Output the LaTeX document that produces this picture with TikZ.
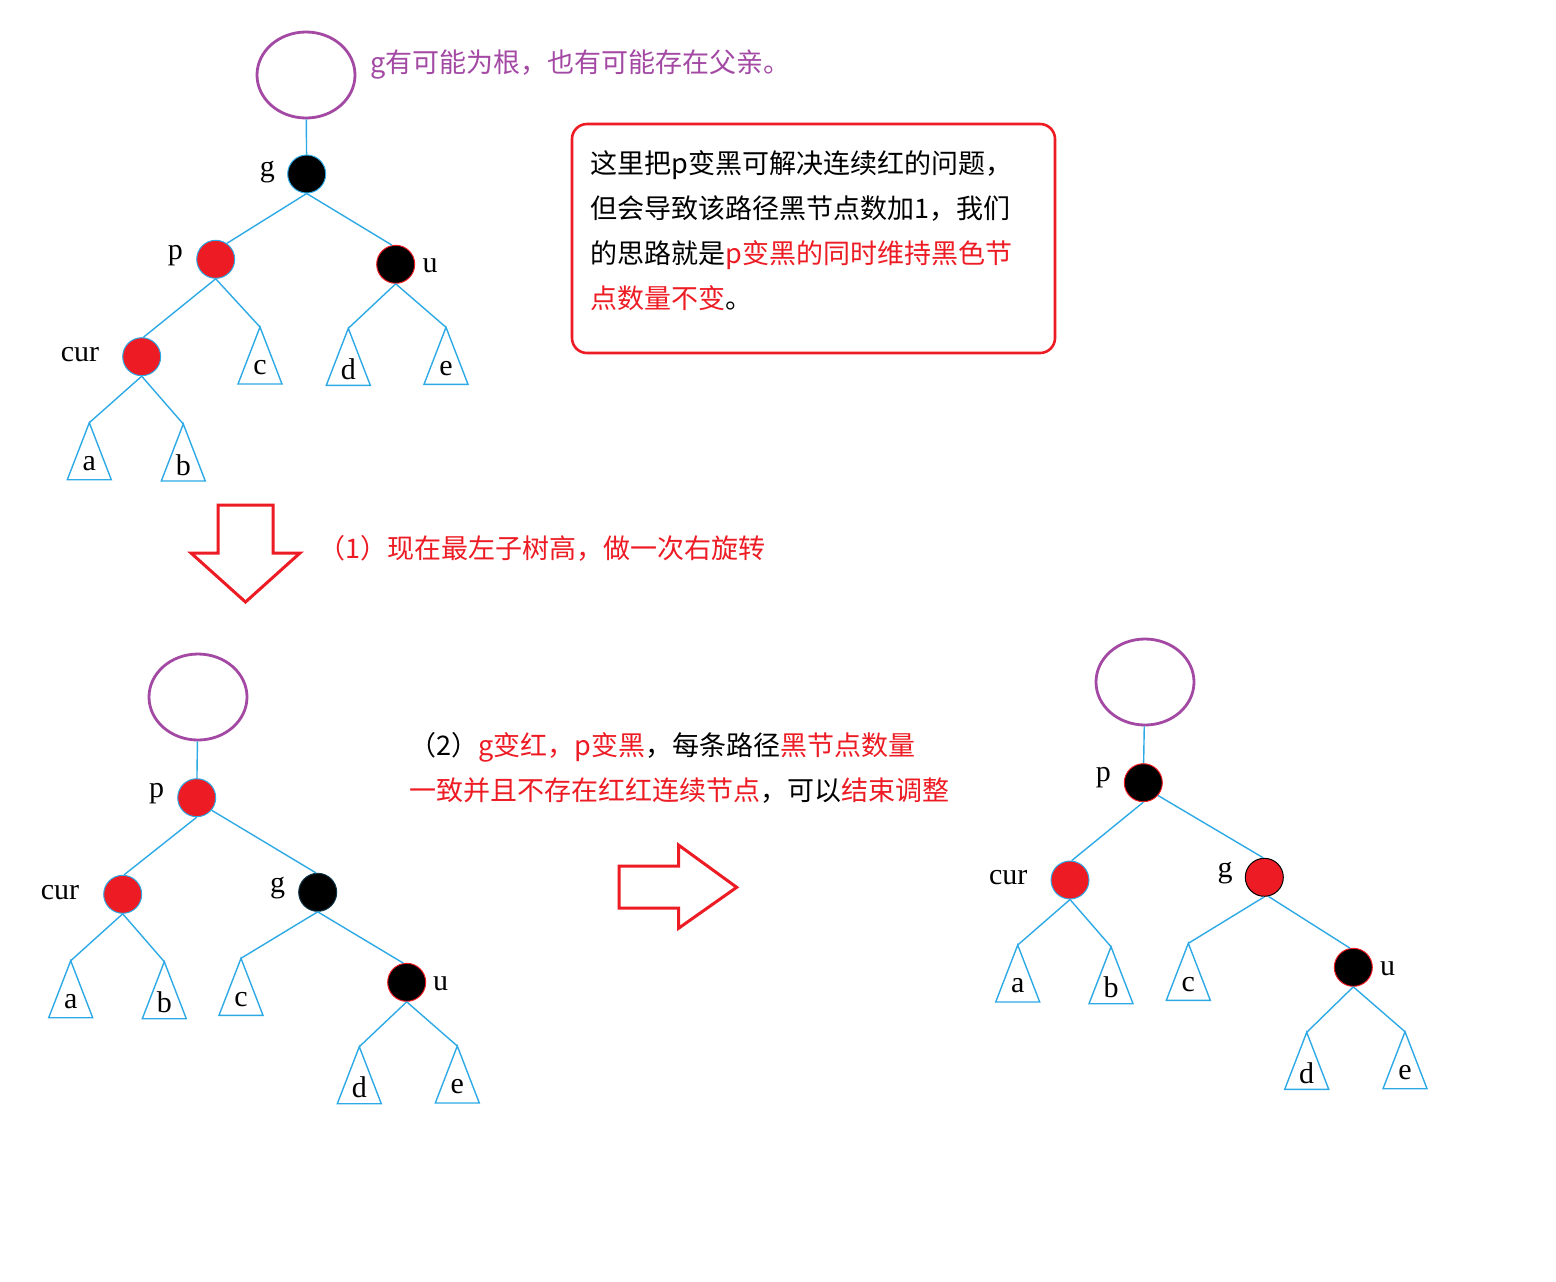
\documentclass[tikz,border=0pt]{standalone}
\usepackage{fontspec}
\setmainfont{Liberation Serif}
\newfontfamily\cjk{Noto Sans CJK SC}
\usetikzlibrary{shapes.geometric}
\definecolor{pred}{RGB}{237,28,36}
\definecolor{ppurple}{RGB}{163,73,164}
\definecolor{pblue}{RGB}{45,170,230}
\tikzset{
  rootell/.style={draw=ppurple, line width=1.4pt, ellipse, minimum width=49pt, minimum height=43pt, inner sep=0pt},
  rednode/.style={circle, fill=pred, draw=pblue, line width=0.5pt, minimum size=19pt, inner sep=0pt},
  blacknode/.style={circle, fill=black, draw=pblue, line width=0.5pt, minimum size=19pt, inner sep=0pt},
  edge/.style={draw=pblue, line width=0.7pt},
  tri/.style={draw=pblue, line width=0.7pt},
  lbl/.style={font=\fontsize{15}{18}\selectfont, inner sep=0pt},
  cjktext/.style={font=\cjk\fontsize{13.5}{22.5}\selectfont, align=left, inner sep=0pt},
  notebox/.style={draw=pred, line width=1.3pt, rounded corners=7.5pt, minimum width=241.5pt, minimum height=114.5pt, inner sep=0pt},
  bigarrow/.style={draw=pred, line width=1.5pt, line join=miter}
}
\newcommand{\subtri}[4]{%
  \coordinate (#1) at (#2,#3);
  \draw[tri] (#1) -- ++(-22,57) -- ++(44,0) -- cycle;
  \node[lbl] (#1-l) at (#2,#3+41) {#4};
}
\begin{document}
\begin{tikzpicture}[x=0.5pt,y=-0.5pt]
\fill[white] (0,0) rectangle (1556,1281);
\useasboundingbox (0,0) rectangle (1556,1281);

% ---------------- top tree ----------------
\node[rootell] (r1) at (306,75) {};
\node[cjktext, anchor=west, text=ppurple] (rootnote) at (370,65) {g有可能为根，也有可能存在父亲。};
\node[blacknode] (g1) at (306.7,174) {};
\node[rednode] (p1) at (215.7,259.3) {};
\node[blacknode, draw=pred] (u1) at (395.7,264.3) {};
\node[rednode] (cur1) at (141.7,356.7) {};
\node[lbl] (g1-l) at (267.3,171.7) {g};
\node[lbl] (p1-l) at (175.3,256) {p};
\node[lbl] (u1-l) at (430,265.7) {u};
\node[lbl] (cur1-l) at (80,355) {cur};
\subtri{a1}{89.3}{422.7}{a}
\subtri{b1}{183.3}{424}{b}
\subtri{c1}{260}{327}{c}
\subtri{d1}{348.3}{328.3}{d}
\subtri{e1}{446}{327.3}{e}
\draw[edge] (r1) -- (g1);
\draw[edge] (g1.south) -- (p1.55);
\draw[edge] (g1.south) -- (u1.101);
\draw[edge] (p1.south) -- (cur1.85);
\draw[edge] (p1.south) -- (c1);
\draw[edge] (u1.south) -- (d1);
\draw[edge] (u1.south) -- (e1);
\draw[edge] (cur1.south) -- (a1);
\draw[edge] (cur1.south) -- (b1);

% note box
\node[notebox] (note) at (813.5,238.5) {};
\node[cjktext, anchor=west] (notetext) at (590,230.5) {这里把p变黑可解决连续红的问题，\\但会导致该路径黑节点数加1，我们\\的思路就是\textcolor{pred}{p变黑的同时维持黑色节}\\\textcolor{pred}{点数量不变}。};

% down arrow
\draw[bigarrow] (218,505) -- (273,505) -- (273,553) -- (300,553) -- (245.5,602) -- (191,553) -- (218,553) -- cycle;
\node[cjktext, anchor=west, text=pred] (step1) at (318,548) {（1）现在最左子树高，做一次右旋转};

% ---------------- bottom-left tree ----------------
\node[rootell] (r2) at (198,697) {};
\node[rednode] (p2) at (196.7,797.7) {};
\node[rednode] (cur2) at (122.7,894.3) {};
\node[blacknode, draw=black!70!pblue] (g2) at (317.7,892.3) {};
\node[blacknode, draw=pred] (u2) at (406.7,982.3) {};
\node[lbl] (p2-l) at (156.7,793.3) {p};
\node[lbl] (cur2-l) at (60,892.3) {cur};
\node[lbl] (g2-l) at (277.7,888.3) {g};
\node[lbl] (u2-l) at (440.7,983.3) {u};
\subtri{a2}{70.7}{960.7}{a}
\subtri{b2}{164.3}{961.7}{b}
\subtri{c2}{241}{958.3}{c}
\subtri{d2}{359.3}{1046.7}{d}
\subtri{e2}{457.3}{1046}{e}
\draw[edge] (r2) -- (p2);
\draw[edge] (p2.south) -- (cur2.86);
\draw[edge] (p2.-40) -- (g2.95);
\draw[edge] (cur2.south) -- (a2);
\draw[edge] (cur2.south) -- (b2);
\draw[edge] (g2.south) -- (c2);
\draw[edge] (g2.south) -- (u2.100);
\draw[edge] (u2.south) -- (d2);
\draw[edge] (u2.south) -- (e2);

% step 2 text
\node[cjktext, anchor=west] (step2) at (409,767.5) {（2）\textcolor{pred}{g变红，p变黑}，每条路径\textcolor{pred}{黑节点数量}\\\textcolor{pred}{一致并且不存在红红连续节点}，可以\textcolor{pred}{结束调整}};

% right arrow
\draw[bigarrow] (619,866) -- (678.5,866) -- (678.5,845) -- (736.7,887.3) -- (678.5,928.3) -- (678.5,908) -- (619,908) -- cycle;

% ---------------- bottom-right tree ----------------
\node[rootell] (r3) at (1145,682) {};
\node[blacknode, draw=pred] (p3) at (1143.3,782.7) {};
\node[rednode] (cur3) at (1070,880) {};
\node[rednode, draw=black] (g3) at (1264.3,877.3) {};
\node[blacknode, draw=pred] (u3) at (1353.3,967.3) {};
\node[lbl] (p3-l) at (1103.3,777.7) {p};
\node[lbl] (cur3-l) at (1008.3,877.3) {cur};
\node[lbl] (g3-l) at (1225,873.3) {g};
\node[lbl] (u3-l) at (1387.7,968.3) {u};
\subtri{a3}{1017.7}{945}{a}
\subtri{b3}{1111}{946.7}{b}
\subtri{c3}{1188.3}{943.3}{c}
\subtri{d3}{1306.7}{1032.3}{d}
\subtri{e3}{1405}{1031.7}{e}
\draw[edge] (r3) -- (p3);
\draw[edge] (p3.south) -- (cur3.85);
\draw[edge] (p3.-41) -- (g3.93);
\draw[edge] (cur3.south) -- (a3);
\draw[edge] (cur3.south) -- (b3);
\draw[edge] (g3.south) -- (c3);
\draw[edge] (g3.-78) -- (u3.100);
\draw[edge] (u3.south) -- (d3);
\draw[edge] (u3.south) -- (e3);
\end{tikzpicture}
\end{document}
